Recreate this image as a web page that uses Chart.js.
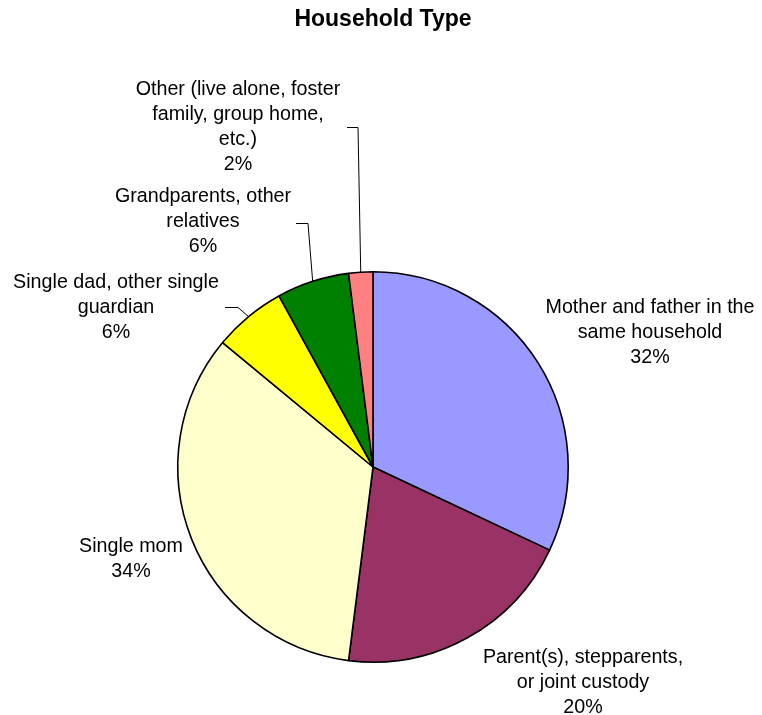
<!DOCTYPE html>
<html>
<head>
<meta charset="utf-8">
<title>Household Type</title>
<script src="https://cdn.jsdelivr.net/npm/chart.js@4/dist/chart.umd.min.js"></script>
<style>
    body { margin: 0; background: #fff; }
    #wrap { width: 762px; height: 715px; position: relative; }
</style>
</head>
<body>
<div id="wrap"><canvas id="chartHousehold" width="762" height="715"></canvas></div>
<script>
// Household type shares, clockwise from 12 o'clock
const categories = [
    ['Mother and father in the', 'same household'],
    ['Parent(s), stepparents,', 'or joint custody'],
    ['Single mom'],
    ['Single dad, other single', 'guardian'],
    ['Grandparents, other', 'relatives'],
    ['Other (live alone, foster', 'family, group home,', 'etc.)']
];
const shares = [32, 20, 34, 6, 6, 2];
const colors = ['#9999FF', '#993366', '#FFFFCC', '#FFFF00', '#008000', '#FF8080'];

// where each label block sits (center x, first line y) and optional leader elbow
const labelPos = [
    { x: 650, y: 308 },
    { x: 583, y: 658 },
    { x: 131, y: 547 },
    { x: 116, y: 283, leader: [[225, 307], [238, 307]] },
    { x: 203, y: 197, leader: [[296, 223], [308, 223]] },
    { x: 238, y: 90, leader: [[347, 127], [358, 127]] }
];

const FONT = '"Liberation Sans", Arial, Helvetica, sans-serif';

const labelsPlugin = {
    id: 'sliceLabels',
    afterDraw(chart) {
        const ctx = chart.ctx;
        const meta = chart.getDatasetMeta(0);
        ctx.save();

        // title
        ctx.fillStyle = '#000';
        ctx.font = 'bold 23px ' + FONT;
        ctx.textAlign = 'center';
        ctx.textBaseline = 'middle';
        ctx.fillText('Household Type', 383, 20);

        ctx.font = '19.7px ' + FONT;
        meta.data.forEach((arc, i) => {
            const p = labelPos[i];
            const lines = categories[i].concat([shares[i] + '%']);
            lines.forEach((txt, k) => ctx.fillText(txt, p.x, p.y + k * 25));

            if (p.leader) {
                const mid = (arc.startAngle + arc.endAngle) / 2;
                const ex = arc.x + Math.cos(mid) * arc.outerRadius;
                const ey = arc.y + Math.sin(mid) * arc.outerRadius;
                ctx.strokeStyle = '#000';
                ctx.lineWidth = 1;
                ctx.beginPath();
                ctx.moveTo(p.leader[0][0], p.leader[0][1] + 0.5);
                ctx.lineTo(p.leader[1][0], p.leader[1][1] + 0.5);
                ctx.lineTo(ex, ey);
                ctx.stroke();
            }
        });
        ctx.restore();
    }
};

new Chart(document.getElementById('chartHousehold'), {
    type: 'pie',
    data: {
        labels: categories.map(c => c.join(' ')),
        datasets: [{
            data: shares,
            backgroundColor: colors,
            borderColor: '#000',
            borderWidth: 1.6
        }]
    },
    options: {
        responsive: false,
        animation: false,
        layout: { padding: { left: 177, right: 193, top: 271, bottom: 52 } },
        plugins: {
            legend: { display: false },
            tooltip: { enabled: false },
            title: { display: false }
        }
    },
    plugins: [labelsPlugin]
});
</script>
</body>
</html>
